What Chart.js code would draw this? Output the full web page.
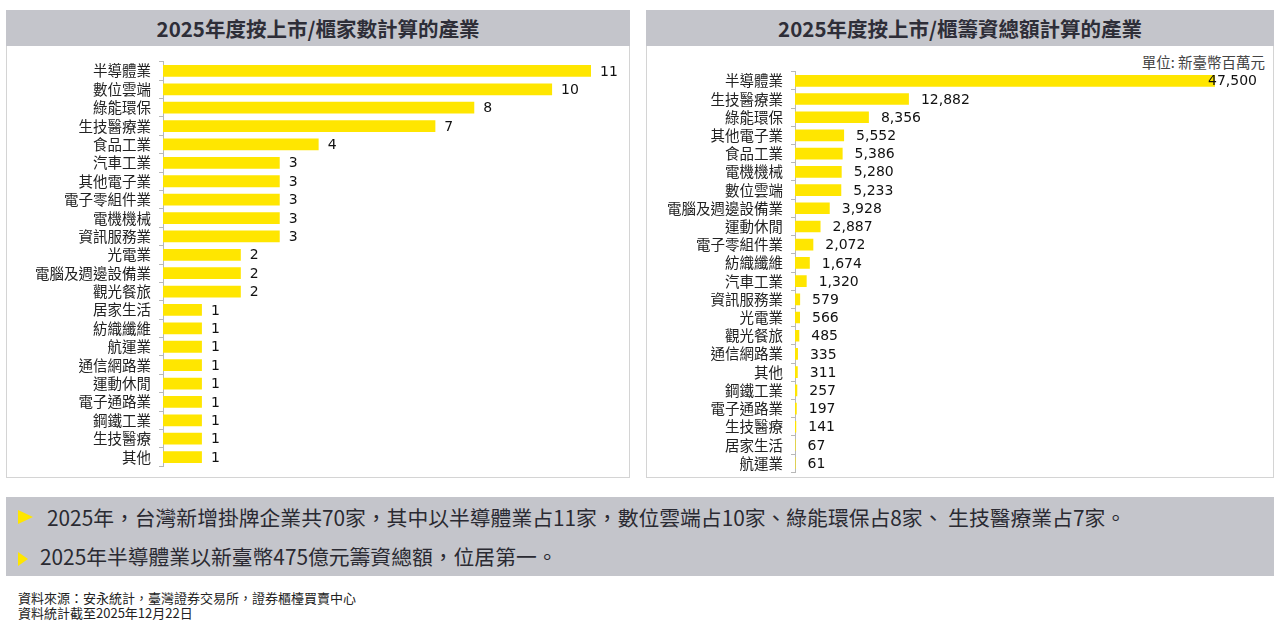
<!DOCTYPE html>
<html>
<head>
<meta charset="utf-8">
<script src="https://cdn.jsdelivr.net/npm/chart.js@4.4.1/dist/chart.umd.min.js"></script>
<style>
  body { margin: 0; width: 1280px; height: 629px; background: #fff; position: relative; overflow: hidden;
         font-family: "Noto Sans CJK TC", "Noto Sans", sans-serif; color: #222; }
  .hdr { position: absolute; top: 10px; height: 36px; background: #c4c5cb; color: #2e2e38;
         font-size: 20.5px; font-weight: bold; text-align: center; line-height: 36px; }
  .panel { position: absolute; top: 46px; height: 432px; border: 1px solid #d4d4d4; border-top: none; box-sizing: border-box; }
  .cv { position: absolute; }
  .unit { position: absolute; left: 1000px; width: 265px; top: 51px; text-align: right; font-size: 14.5px; color: #444; }
  .notes { position: absolute; left: 6px; top: 497px; width: 1268px; height: 79px; background: #c4c5cb; }
  .note { position: absolute; font-size: 20.8px; color: #2a2a32; white-space: nowrap; line-height: 24px; }
  .tri { position: absolute; width: 0; height: 0; border-style: solid; border-color: transparent transparent transparent #ffe600; }
  .src { position: absolute; left: 18px; font-size: 13px; color: #222; line-height: 15px; }
</style>
</head>
<body>
<div class="hdr" style="left:6px;width:624px;">2025年度按上市/櫃家數計算的產業</div>
<div class="hdr" style="left:646px;width:628px;">2025年度按上市/櫃籌資總額計算的產業</div>
<div class="panel" style="left:6px;width:624px;"></div>
<div class="panel" style="left:646px;width:628px;"></div>
<div class="unit">單位: 新臺幣百萬元</div>
<div class="cv" style="left:7px;top:45px;width:620px;height:438px;"><canvas id="countChart"></canvas></div>
<div class="cv" style="left:647px;top:55px;width:626px;height:434px;"><canvas id="amountChart"></canvas></div>
<div class="notes">
  <div class="tri" style="left:12px;top:13px;border-width:7px 0 7px 15px;"></div>
  <div class="note" style="left:41px;top:8px;">2025年，台灣新增掛牌企業共70家，其中以半導體業占11家，數位雲端占10家、綠能環保占8家、 生技醫療業占7家。</div>
  <div class="tri" style="left:12px;top:55px;border-width:7px 0 7px 10px;"></div>
  <div class="note" style="left:34px;top:47px;">2025年半導體業以新臺幣475億元籌資總額，位居第一。</div>
</div>
<div class="src" style="top:590px;">資料來源：安永統計，臺灣證券交易所，證券櫃檯買賣中心</div>
<div class="src" style="top:605px;">資料統計截至2025年12月22日</div>
<script>
// left chart: number of listings by industry
const countCategories = ["半導體業", "數位雲端", "綠能環保", "生技醫療業", "食品工業", "汽車工業", "其他電子業",
  "電子零組件業", "電機機械", "資訊服務業", "光電業", "電腦及週邊設備業", "觀光餐旅", "居家生活", "紡織纖維",
  "航運業", "通信網路業", "運動休閒", "電子通路業", "鋼鐵工業", "生技醫療", "其他"];
const countValues = [11, 10, 8, 7, 4, 3, 3, 3, 3, 3, 2, 2, 2, 1, 1, 1, 1, 1, 1, 1, 1, 1];

// right chart: funds raised (NT$ millions)
const amountCategories = ["半導體業", "生技醫療業", "綠能環保", "其他電子業", "食品工業", "電機機械", "數位雲端",
  "電腦及週邊設備業", "運動休閒", "電子零組件業", "紡織纖維", "汽車工業", "資訊服務業", "光電業", "觀光餐旅",
  "通信網路業", "其他", "鋼鐵工業", "電子通路業", "生技醫療", "居家生活", "航運業"];
const amountValues = [47500, 12882, 8356, 5552, 5386, 5280, 5233, 3928, 2887, 2072, 1674, 1320, 579, 566, 485,
  335, 311, 257, 197, 141, 67, 61];

const yellow = "#ffe600";

// value labels after each bar; "edge" keeps them that far from the canvas right side
function valueLabels(gap, edge) {
  return {
    id: "valueLabels",
    afterDatasetsDraw(chart) {
      const ctx = chart.ctx;
      const meta = chart.getDatasetMeta(0);
      ctx.save();
      ctx.font = "14px 'DejaVu Sans'";
      ctx.fillStyle = "#111";
      ctx.textBaseline = "middle";
      meta.data.forEach((bar, i) => {
        const txt = chart.data.datasets[0].data[i].toLocaleString("en-US");
        const w = ctx.measureText(txt).width;
        let x = bar.x + gap;
        if (x + w > chart.width - edge) x = chart.width - edge - w;
        ctx.fillText(txt, x, bar.y + 1);
      });
      ctx.restore();
    }
  };
}

function makeChart(id, labels, values, max, axisWidth, pad, gap, edge) {
  return new Chart(document.getElementById(id), {
    type: "bar",
    data: { labels: labels, datasets: [{ data: values, backgroundColor: yellow,
      barPercentage: 0.64, categoryPercentage: 1 }] },
    options: {
      indexAxis: "y",
      responsive: true,
      maintainAspectRatio: false,
      animation: false,
      layout: { padding: pad },
      plugins: { legend: { display: false }, tooltip: { enabled: false } },
      scales: {
        x: { display: false, min: 0, max: max },
        y: {
          afterFit(scale) { scale.width = axisWidth; },
          grid: { drawOnChartArea: false, drawTicks: true, tickLength: 4, color: "#b8b8b8" },
          border: { color: "#b8b8b8" },
          ticks: { color: "#222", padding: 8, autoSkip: false,
            font: { family: "'Noto Sans CJK TC'", size: 14.5 } }
        }
      }
    },
    plugins: [valueLabels(gap, edge)]
  });
}

makeChart("countChart", countCategories, countValues, 11, 156, { top: 0, bottom: 0, right: 36 }, 9, 0);
makeChart("amountChart", amountCategories, amountValues, 47500, 148, { top: 0, bottom: 0, right: 58 }, 12, 16);
</script>
</body>
</html>
